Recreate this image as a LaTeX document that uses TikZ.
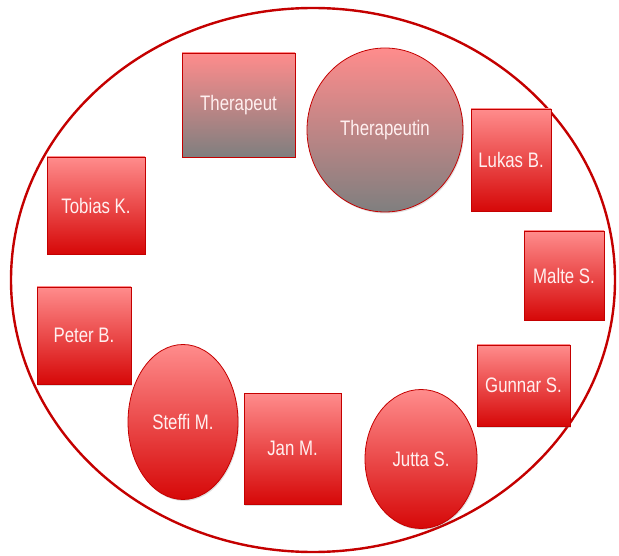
\documentclass[tikz,border=0pt]{standalone}
\usepackage{fontspec}
\setmainfont{Liberation Sans}[FakeStretch=0.8]
\usetikzlibrary{shapes.geometric, shadows}
\definecolor{rimred}{HTML}{C40000}
\definecolor{lightred}{HTML}{FF8C8C}
\definecolor{darkred}{HTML}{D60808}
\definecolor{midgray}{HTML}{7F7F7F}
\tikzset{
  x=1pt, y=-1pt,
  person/.style={draw=rimred, line width=0.8pt, top color=lightred,
    bottom color=darkred, text=white!94!red, inner sep=0pt,
    font=\fontsize{21}{23}\selectfont,
    drop shadow={opacity=0.25, shadow xshift=1pt, shadow yshift=-1.5pt}},
  personbox/.style={person, rectangle},
  persondisc/.style={person, ellipse},
  therapist/.style={bottom color=midgray}
}

\begin{document}
\begin{tikzpicture}
  \useasboundingbox (0,0) rectangle (619,556);

  % the group
  \draw[rimred, line width=2.4pt] (313,280) ellipse [x radius=302, y radius=272];

  % therapists
  \node[personbox, therapist, minimum width=113pt, minimum height=104pt] (therapeut) at (238.5,105) {Therapeut};
  \node[persondisc, therapist, minimum width=156pt, minimum height=164pt] (therapeutin) at (385,130) {Therapeutin};

  % participants
  \node[personbox, minimum width=80pt, minimum height=102pt] (lukas) at (511,160) {Lukas B.};
  \node[personbox, minimum width=80pt, minimum height=89pt] (malte) at (564,275.5) {Malte S.};
  \node[personbox, minimum width=93pt, minimum height=81pt] (gunnar) at (523.5,385.5) {Gunnar S.};
  \node[persondisc, minimum width=112pt, minimum height=139pt] (jutta) at (421,459) {Jutta S.};
  \node[personbox, minimum width=97pt, minimum height=111pt] (jan) at (292.5,448.5) {Jan M.};
  \node[persondisc, minimum width=110pt, minimum height=155pt] (steffi) at (183,422) {Steffi M.};
  \node[personbox, minimum width=94pt, minimum height=97pt] (peter) at (84,335.5) {Peter B.};
  \node[personbox, minimum width=98pt, minimum height=97pt] (tobias) at (96,205.5) {Tobias K.};
\end{tikzpicture}
\end{document}
